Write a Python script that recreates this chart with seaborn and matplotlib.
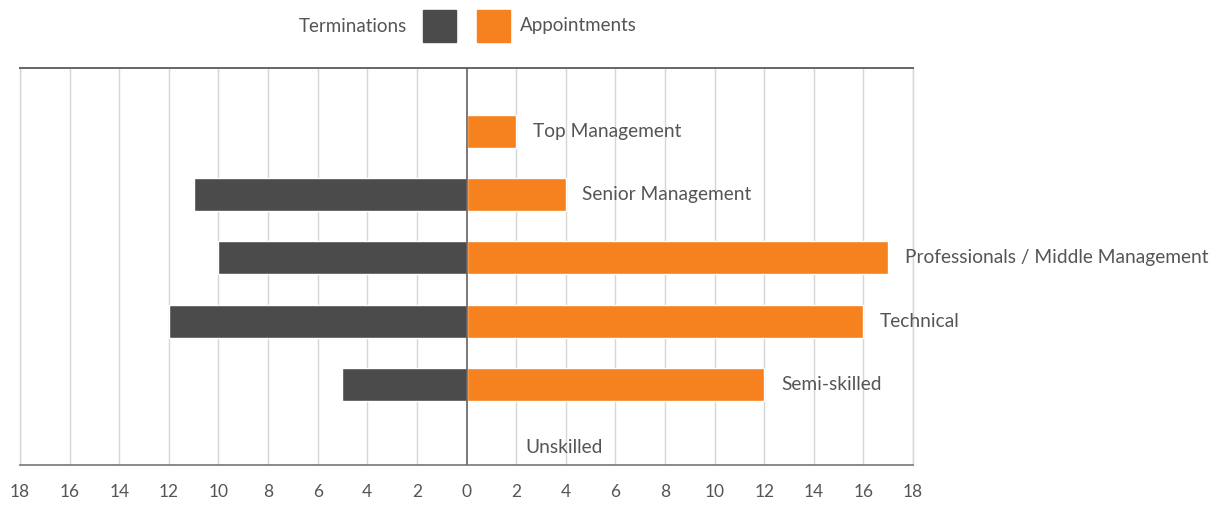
import numpy as np
import pandas as pd
import matplotlib
matplotlib.use("Agg")
import matplotlib.pyplot as plt
import seaborn as sns
from matplotlib.patches import Rectangle
from matplotlib.ticker import FuncFormatter, MultipleLocator

categories = ["Top Management", "Senior Management", "Professionals / Middle Management",
              "Technical", "Semi-skilled", "Unskilled"]
terminations = [0, 11, 10, 12, 5, 0]
appointments = [2, 4, 17, 16, 12, 0]

term_color = "#4b4b4b"
appt_color = "#f5821f"
text_color = "#555555"

df = pd.DataFrame({
    "category": categories * 2,
    "series": ["Terminations"] * len(categories) + ["Appointments"] * len(categories),
    "value": [-v for v in terminations] + appointments,
})

sns.set_theme(style="white")
plt.rcParams["font.family"] = ["Lato", "DejaVu Sans"]

fig = plt.figure(figsize=(12.19, 5.07), dpi=100)
ax = fig.add_axes([0.0164, 0.083, 0.7326, 0.783])

sns.barplot(data=df, y="category", x="value", hue="series", dodge=False,
            palette={"Terminations": term_color, "Appointments": appt_color},
            width=0.52, orient="h", order=categories, ax=ax, legend=False,
            saturation=1, zorder=3)

ax.set_xlim(-18, 18)
ax.set_ylim(5.27, -1)
ax.xaxis.set_major_locator(MultipleLocator(2))
ax.xaxis.set_major_formatter(FuncFormatter(lambda v, p: f"{abs(int(round(v)))}"))
ax.tick_params(axis="x", length=0, pad=14, labelsize=12.5, labelcolor=text_color)
ax.set_yticks([])
ax.set_xlabel("")
ax.set_ylabel("")

for x in np.arange(-18, 19, 2):
    if x == 0:
        ax.axvline(x, color="#555555", lw=1.1, zorder=4)
    else:
        ax.axvline(x, color="#d6d6d6", lw=1.0, zorder=1)

for side in ["left", "right"]:
    ax.spines[side].set_color("#d6d6d6")
    ax.spines[side].set_linewidth(1.0)
ax.spines["top"].set_color("#666666")
ax.spines["top"].set_linewidth(1.4)
ax.spines["bottom"].set_color("#777777")
ax.spines["bottom"].set_linewidth(1.2)

# category labels to the right of the appointment bars
for i, (cat, v) in enumerate(zip(categories, appointments)):
    x = v if v > 0 else 1.7
    ax.annotate(cat, (x, i), xytext=(12, 0), textcoords="offset points",
                ha="left", va="center", fontsize=13.8, color=text_color, zorder=5)

# legend at top
fig.text(407 / 1219, 1 - 26 / 507, "Terminations", ha="right", va="center",
         fontsize=13.5, color=text_color)
fig.patches.append(Rectangle((423 / 1219, 1 - 42 / 507), 33 / 1219, 32 / 507,
                             transform=fig.transFigure, color=term_color))
fig.patches.append(Rectangle((477 / 1219, 1 - 42 / 507), 33 / 1219, 32 / 507,
                             transform=fig.transFigure, color=appt_color))
fig.text(520 / 1219, 1 - 26 / 507, "Appointments", ha="left", va="center",
         fontsize=13.5, color=text_color)

fig.savefig("out.png", dpi=100)
